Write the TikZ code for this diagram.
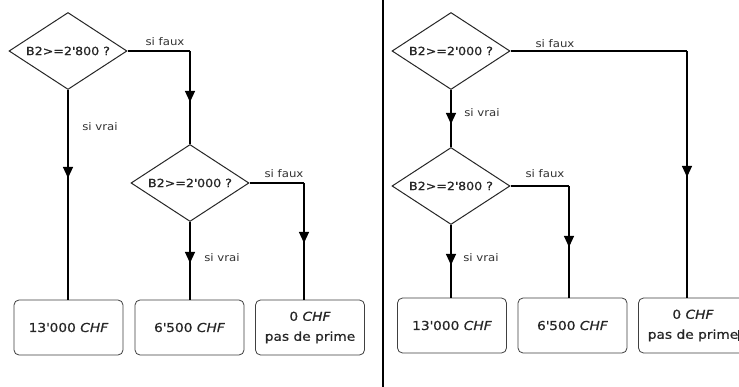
\documentclass[tikz,border=0pt]{standalone}
\usepackage{fontspec}
\setmainfont[FakeStretch=1.12]{DejaVu Sans}
\newfontfamily\medfont[FakeStretch=1.12,FakeBold=0.6]{DejaVu Sans}
\usetikzlibrary{shapes.geometric,arrows.meta,decorations.markings}
\begin{document}
\begin{tikzpicture}[x=1pt,y=-1pt,
  cond/.style={diamond, draw=black!85, line width=1pt, aspect=1.53, inner sep=0pt,
    minimum width=118pt, minimum height=77pt, font=\medfont\fontsize{11.3}{12}\selectfont, text=black!85},
  res/.style={draw=black!75, line width=0.8pt, rounded corners=5pt, minimum width=109pt,
    minimum height=55pt, align=center, font=\medfont\fontsize{12.3}{20}\selectfont, text=black!85},
  lbl/.style={font=\fontsize{10.5}{12}\selectfont, text=black!80, inner sep=0pt},
  conn/.style={draw=black, line width=1.1pt},
  arrowat/.style={postaction={decorate,decoration={markings,
    mark=at position #1 with {\arrow{Triangle[width=10pt,length=11pt]}}}}}]
\clip (0,0) rectangle (739,387);
\fill[white] (0,0) rectangle (739,387);

% ---------- left panel ----------
\node[cond] (L1) at (68,51) {B2>=2\textquotesingle 800 ?};
\node[cond] (L2) at (190,183) {B2>=2\textquotesingle 000 ?};
\node[res] (LB1) at (68.5,327.5) {13\textquotesingle 000 \textit{CHF}};
\node[res] (LB2) at (189.5,327.5) {6\textquotesingle 500 \textit{CHF}};
\node[res] (LB3) at (310,327.5) {0 \textit{CHF}\\pas de prime};

\coordinate (LF1) at (190,51);
\coordinate (LF2) at (304,183);
\draw[conn, arrowat=88pt] (L1.south) -- (L1.south |- LB1.north);
\draw[conn] (L1.east) -- (LF1);
\draw[conn, arrowat=51pt] (LF1) -- (L2.north);
\draw[conn, arrowat=41pt] (L2.south) -- (L2.south |- LB2.north);
\draw[conn] (L2.east) -- (LF2);
\draw[conn, arrowat=60pt] (LF2) -- (LF2 |- LB3.north);

\node[lbl] (lf1) at (165,42) {si faux};
\node[lbl] (lv1) at (100,127) {si vrai};
\node[lbl] (lf2) at (284,174) {si faux};
\node[lbl] (lv2) at (222,258) {si vrai};

% ---------- separator ----------
\coordinate (s1) at (383,0);
\coordinate (s2) at (383,387);
\draw[line width=1.3pt] (s1) -- (s2);

% ---------- right panel ----------
\node[cond] (R1) at (451,51) {B2>=2\textquotesingle 000 ?};
\node[cond] (R2) at (451,186) {B2>=2\textquotesingle 800 ?};
\node[res] (RB1) at (452,325.5) {13\textquotesingle 000 \textit{CHF}};
\node[res] (RB2) at (572.5,325.5) {6\textquotesingle 500 \textit{CHF}};
\node[res] (RB3) at (693,325.5) {0 \textit{CHF}\\pas de prime\rlap{\rule[-2pt]{0.8pt}{11pt}}};

\coordinate (RF1) at (687,51);
\coordinate (RF2) at (569,186);
\draw[conn, arrowat=34pt] (R1.south) -- (R2.north);
\draw[conn] (R1.east) -- (RF1);
\draw[conn, arrowat=126pt] (RF1) -- (RF1 |- RB3.north);
\draw[conn, arrowat=40pt] (R2.south) -- (R2.south |- RB1.north);
\draw[conn] (R2.east) -- (RF2);
\draw[conn, arrowat=61pt] (RF2) -- (RF2 |- RB2.north);

\node[lbl] (rf1) at (555,44) {si faux};
\node[lbl] (rv1) at (482,113) {si vrai};
\node[lbl] (rf2) at (545,174) {si faux};
\node[lbl] (rv2) at (481,258) {si vrai};
\end{tikzpicture}
\end{document}
